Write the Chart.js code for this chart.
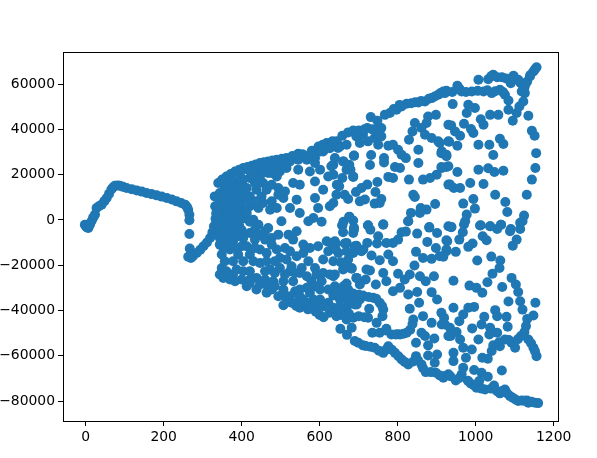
<!DOCTYPE html>
<html>
<head>
<meta charset="utf-8">
<script src="https://cdn.jsdelivr.net/npm/chart.js@4"></script>
<style>
  html, body { margin: 0; padding: 0; background: #fff; }
  canvas { display: block; }
</style>
</head>
<body>
<canvas id="scatterChart" width="597" height="458"></canvas>
<script>
const xTicks = [0, 200, 400, 600, 800, 1000, 1200];
const yTicks = [-80000, -60000, -40000, -20000, 0, 20000, 40000, 60000];

// values, [x, y]
const headPoints = [[-2,-2100],[2,-3100],[7,-3550],[4,-3300],[11,-2100],[15,-600],[19,900],[24,2350],[28,5300],[34,6000],[41,6750],[48,8300],[54,9700],[60,11500],[66,13400],[70,14300],[75,15100],[82,15200],[88,15100],[96,14600],[105,14100],[118,13600],[131,13050],[144,12500],[156,11900],[169,11400],[182,10850],[195,10300],[208,9700],[221,9000],[233,8200],[245,7500],[255,6750],[260,5700],[263,4500],[266,2300],[266,-150],[266,-6200],[267,-12650],[270,-16800],[263,-16300],[275,-16000],[285,-14600],[294,-13200],[302,-11650],[311,-10000],[319,-8000],[325,-5500],[329,-2800],[333,500],[336,3100]];

const denseBlob = [[332,6000],[345,7000],[358,6500],[372,7000],[385,6000],[398,5500],[335,3000],[348,3500],[362,4000],[376,3500],[390,4000],[405,3000],[335,0],[350,500],[364,1000],[378,800],[392,500],[406,700],[338,-2500],[352,-2000],[366,-2500],[380,-2000],[394,-2800],[340,-5000],[355,-5500],[370,-4800],[385,-5200],[400,-4500],[345,-7500],[360,-7000],[375,-8000],[390,-7000]];

const fanLeft = [[340,16300],[361,19200],[383,21400],[404,22900],[426,23900],[447,25100],[468,25850],[490,26600],[515,27300],[545,29200],[567,28350],[597,32450],[618,33950],[644,34700],[609,30250],[588,27300],[588,25100],[545,22200],[575,21400],[601,22200],[622,19200],[661,25850],[669,22200],[686,19200],[688,28350],[635,24400],[644,15550],[609,13350],[588,9700],[596,5300],[541,8950],[532,16300],[549,15550],[588,17000],[494,14100],[507,9700],[524,5300],[549,3050],[584,850],[571,-600],[502,-600],[605,-800],[661,-800],[686,-300],[676,1300],[468,20700],[490,19200],[447,19200],[421,18500],[404,17800],[455,16300],[477,15550],[438,13350],[413,14100],[387,13350],[370,12600],[344,11900],[361,10400],[400,11150],[421,10400],[451,10400],[477,8200],[490,5300],[421,6000],[443,5300],[396,7500],[370,6000],[353,4500],[340,6000],[336,2300],[349,100],[366,2300],[387,2300],[413,3050],[430,100],[443,-2100],[396,100],[374,-1350],[340,-2100],[344,-4300],[421,-800]];

const fanLeftFill = [[353,17000],[374,19200],[396,20700],[417,22200],[438,22900],[460,23600],[481,23900],[502,24800],[524,25850],[545,26600],[567,26600],[584,29500],[601,30250],[626,31700],[652,32450],[350,17800],[372,20300],[394,22200],[415,23400],[436,24500],[457,25500],[479,26200],[503,27000],[530,28200],[556,29000],[580,30500],[608,33200],[631,34300],[477,20700],[498,21400],[515,22900],[485,22900],[455,21400],[430,20000],[387,17000],[374,16300],[357,14100],[396,14800],[434,16300],[464,13300],[494,11150],[511,12600],[473,4500],[455,7500],[438,8200],[413,8950],[383,9700],[344,8950],[331,10400]];

const fanLeftLower = [[404,-7950],[378,-9400],[344,-10900],[370,-13100],[349,-15300],[400,-11650],[447,-6500],[477,-7950],[494,-6500],[520,-6500],[541,-5000],[532,-8700],[558,-10900],[575,-12400],[596,-11650],[618,-9400],[639,-9400],[669,-10150],[690,-11650],[712,-13100],[447,-13100],[477,-10900],[511,-12400],[421,-15300],[391,-15300],[498,-16800],[515,-17500],[541,-16000],[558,-14600],[622,-13800],[648,-14600],[669,-13800],[609,-17500],[588,-21200],[635,-18250],[665,-21200],[682,-21200],[720,-21900],[349,-21200],[361,-22650],[378,-24100],[344,-24100],[400,-26300],[421,-22650],[447,-19000],[473,-21900],[498,-21200],[524,-22650],[554,-21200],[438,-25600],[460,-26300],[481,-27100],[507,-27100],[532,-27100],[549,-23400],[579,-27100],[605,-27100],[635,-24850],[661,-29300],[695,-25600],[413,-29300],[438,-30750],[464,-32200],[494,-33700],[515,-35150],[541,-36600],[567,-36600],[601,-35150],[622,-36600],[652,-35150],[678,-35150],[712,-33700],[507,-30750],[537,-31500],[575,-32200],[601,-30750],[477,-30750],[549,-33700],[592,-38100],[635,-38800],[695,-37350],[507,-37700],[549,-38800],[540,-38000],[570,-39500],[600,-42000],[610,-43000],[625,-41000],[590,-40500]];

const lowerFill = [[344,-7950],[361,-9400],[387,-7250],[421,-5750],[434,-8700],[460,-8700],[434,-4300],[460,-5000],[468,-3550],[353,-12400],[383,-12400],[413,-11650],[434,-12400],[464,-14600],[490,-13100],[524,-13850],[357,-18250],[378,-18250],[404,-18250],[430,-18250],[464,-18250],[485,-18250],[528,-20450],[571,-18250],[370,-26300],[353,-25600],[383,-27100],[387,-21900],[404,-22650],[421,-26300],[460,-22650],[485,-23400],[511,-24100],[537,-23400],[567,-24850],[592,-24100],[609,-23400],[421,-27800],[447,-28550],[468,-30000],[485,-29300],[507,-32200],[524,-33700],[558,-35150],[584,-35150],[549,-30750],[567,-30000],[588,-29300],[622,-30750],[639,-29300],[673,-30750],[528,-36600],[575,-38800],[609,-38100],[652,-38100],[673,-37350],[703,-35150]];

const upperMiddle = [[917,56700],[904,55300],[887,53800],[870,52300],[853,51900],[823,51300],[810,50100],[797,48650],[780,47200],[767,46400],[731,45400],[748,43800],[844,42800],[878,45700],[898,46400],[874,42800],[861,40600],[870,37600],[887,36150],[904,34700],[930,42000],[838,39100],[829,35400],[930,34700],[853,31000],[912,29500],[925,28100],[930,23700],[912,23400],[900,20000],[883,18500],[865,17800],[853,25100],[829,17800],[930,15600],[686,39500],[673,38650],[658,37200],[722,40550],[746,39800],[758,40550],[711,37600],[694,36900],[703,33950],[724,34700],[741,36150],[758,36900],[750,33200],[669,33200],[647,31750],[633,34700],[776,32800],[788,33200],[801,31000],[810,28800],[821,27300],[688,28400],[732,28650],[765,27300],[765,25400],[729,24250],[793,23400],[806,22900],[660,25850],[676,24400],[679,22200],[639,27300],[630,23700],[635,20000],[658,18500],[686,19000],[776,19000],[788,18500],[748,16750],[722,15600],[707,14100],[693,12300],[650,14850],[664,11150],[673,9250],[643,11150],[635,7500],[626,6000],[703,8200],[716,9000],[741,7200],[754,7500],[758,9250],[743,12300],[840,11150],[844,10150],[896,7050],[874,4550],[859,5300],[857,3100],[834,3100],[827,-600],[676,1450],[658,-2350],[688,-3500],[724,-2350],[763,-1900],[881,-3100],[930,-2800]];

const upperRight = [[1156,67450],[1148,65550],[1139,63350],[1132,61150],[1118,60100],[1109,61900],[1097,63650],[1090,60400],[1067,63050],[1045,64100],[1032,62150],[1007,61900],[953,59250],[964,56700],[990,56700],[1020,56700],[1041,56000],[1062,57450],[1075,55300],[1084,52750],[1118,56700],[1126,56000],[1122,52300],[1112,50100],[1105,47200],[1084,48650],[1095,43800],[1135,46000],[1144,39400],[1151,37200],[1155,29500],[1153,22900],[1144,17800],[1131,11150],[1124,1900],[1114,-1300],[1090,-4000],[1065,-2100],[1037,-2800],[1013,-2350],[1081,3500],[1076,7900],[1050,11150],[1020,15900],[986,16300],[960,14100],[944,14100],[934,15600],[1071,21750],[1048,21150],[1032,22800],[1007,22200],[953,21150],[925,23400],[913,22900],[1045,28650],[1071,33500],[1062,35850],[1035,33200],[1007,33200],[953,32800],[932,34500],[908,33950],[925,28800],[913,30300],[994,38350],[988,40100],[960,37200],[947,39100],[937,41750],[970,42500],[977,47200],[998,49400],[981,50850],[1013,44500],[1020,42000],[1037,46400],[1058,46400],[941,51150],[921,56000],[994,9250],[968,7200],[998,5000],[977,2350],[970,-2050],[937,-3250]];

const upperEdge = [[700,39500],[715,40000],[735,40000],[790,49000],[805,50800],[835,51500],[845,52000],[860,52500],[880,53500],[895,54500],[910,56000],[925,57000],[940,56500],[958,58000],[975,56500],[1005,57000],[1030,57300],[1050,56800],[1070,56500],[1040,63500],[1055,63000],[1078,62500],[1100,62500],[1115,60500],[1125,58500],[1140,64000],[1152,66500],[1128,60000]];

const lowerMiddle = [[658,-2500],[660,-5450],[688,-4300],[686,-5750],[724,-2500],[730,-4300],[763,-2100],[827,-600],[810,-5450],[821,-5160],[850,-6050],[881,-3400],[901,-5750],[876,-9700],[925,-9000],[898,-12400],[925,-13800],[847,-14100],[865,-16800],[887,-17200],[908,-16000],[843,-20150],[801,-8700],[788,-10150],[771,-10150],[750,-7200],[747,-10450],[722,-10150],[694,-11350],[707,-13800],[686,-14600],[664,-10450],[641,-10450],[630,-10150],[641,-13100],[733,-15750],[754,-17800],[776,-15300],[788,-18250],[673,-17500],[654,-18700],[682,-21600],[660,-21900],[639,-24100],[626,-24100],[729,-22350],[763,-23400],[771,-27050],[801,-23800],[818,-26300],[831,-24100],[694,-25600],[718,-26300],[703,-28500],[744,-28500],[669,-28100],[652,-30750],[635,-33400],[660,-34000],[686,-32500],[711,-33400],[737,-34400],[754,-36600],[763,-39550],[761,-42500],[788,-31500],[806,-30000],[827,-32950],[850,-31800],[887,-31900],[901,-35150],[855,-36600],[831,-39250],[893,-24850],[872,-27050],[857,-24850],[690,-37350],[643,-40300],[669,-39550],[727,-39250],[724,-43200],[686,-43200],[669,-44000],[643,-42500],[682,-47650],[653,-48100],[670,-50750],[746,-45450],[735,-49850],[754,-49850],[771,-48100],[784,-50600],[806,-50600],[823,-49850],[840,-44000],[865,-42500],[887,-45450],[912,-41000],[921,-46200],[861,-49850],[870,-51300],[894,-52350],[847,-54250],[878,-55400],[930,-51300],[699,-54250],[711,-55400],[741,-56450],[763,-58700],[776,-55750],[793,-58700],[810,-61600],[827,-63800],[847,-60150],[861,-63800],[872,-67200],[878,-59850],[901,-59400],[895,-63100],[898,-67500],[917,-69700],[930,-68200]];

const lowerRight = [[938,-3100],[967,-5450],[973,-600],[1011,-2500],[1037,-2800],[1055,-4000],[1065,-2100],[1088,-5000],[1114,-4000],[1120,-600],[1018,-7200],[1028,-9000],[1105,-8700],[1095,-11350],[992,-10450],[981,-11900],[958,-8700],[927,-9400],[925,-13100],[917,-16300],[949,-14100],[1004,-17950],[1040,-16200],[1063,-17950],[1061,-21200],[1043,-23800],[1030,-27500],[1068,-29600],[1092,-25600],[1103,-28500],[1109,-31800],[1114,-35900],[1120,-39600],[1153,-36600],[1148,-42200],[1132,-43700],[1129,-46900],[1084,-36000],[943,-26900],[984,-29000],[1002,-30000],[1017,-32200],[943,-38800],[996,-38400],[981,-38800],[968,-41800],[958,-44700],[1022,-42800],[1050,-39850],[1055,-42500],[1079,-42800],[1082,-47200],[991,-47900],[1015,-46200],[1037,-47650],[1055,-49850],[1035,-50600],[919,-43200],[913,-46200],[934,-47650],[951,-49550],[936,-51300],[960,-52800],[1007,-52800],[968,-56450],[990,-57200],[1045,-55400],[1041,-57900],[1062,-55750],[1075,-52800],[1092,-54250],[1101,-56450],[1116,-51300],[1135,-52800],[1148,-56450],[1156,-60150],[1017,-60900],[1031,-61300],[943,-58700],[943,-62350],[975,-60900],[968,-65300],[921,-68950],[949,-70900],[964,-68200],[996,-66300],[1067,-66500],[1015,-67500],[1031,-69250],[987,-72200],[1009,-71150],[1002,-74100],[1024,-74850],[1047,-73100],[1062,-76600],[1075,-74850],[1088,-77800],[1109,-80000],[1131,-79700],[1152,-80700],[1135,-80700]];

const lowerEdge = [[1040,-74500],[1055,-75700],[1068,-75500],[1080,-76500],[1095,-78500],[1102,-79300],[1118,-79700],[1125,-79900],[1143,-80300],[1160,-80900],[1015,-74500],[995,-73000],[980,-71000],[958,-69800],[935,-69000],[908,-68700],[885,-67200],[865,-65500],[852,-62000],[840,-62500],[818,-62700],[802,-60200],[785,-57300],[770,-57300],[752,-57800],[730,-56000],[718,-55700],[690,-53500],[1152,-58000],[1142,-54500],[1125,-49500],[1108,-52700],[1085,-53000],[1060,-54000],[745,-34800],[725,-34000],[700,-33000],[675,-33000],[650,-33800],[640,-31500],[760,-38000],[655,-42000],[675,-41500],[700,-42500],[715,-43000],[800,-50500],[795,-50600],[815,-50300],[832,-48500],[838,-46000],[770,-48800]];

const allPoints = [].concat(headPoints, denseBlob, fanLeft, fanLeftFill, fanLeftLower, lowerFill, upperMiddle, upperRight, upperEdge, lowerMiddle, lowerRight, lowerEdge);

const frameBox = {
    id: 'frameBox',
    afterDatasetsDraw(chart) {
        const a = chart.chartArea;
        const c = chart.ctx;
        c.save();
        c.strokeStyle = '#000';
        c.lineWidth = 1;
        c.strokeRect(Math.round(a.left) + 0.5, Math.round(a.top) + 0.5, Math.round(a.right - a.left), Math.round(a.bottom - a.top));
        c.restore();
    }
};

const tickFont = { family: 'DejaVu Sans', size: 13.9 };

new Chart(document.getElementById('scatterChart').getContext('2d'), {
    type: 'scatter',
    data: {
        datasets: [{
            data: allPoints.map(function (p) { return { x: p[0], y: p[1] }; }),
            backgroundColor: '#1f77b4',
            borderWidth: 0,
            pointRadius: 5
        }]
    },
    options: {
        responsive: false,
        animation: false,
        layout: { padding: { left: 0, right: 39, top: 52, bottom: 0 } },
        plugins: { legend: { display: false }, tooltip: { enabled: false } },
        scales: {
            x: {
                type: 'linear',
                min: -58,
                max: 1211,
                afterFit: function (s) { s.height = 37; },
                afterBuildTicks: function (s) { s.ticks = xTicks.map(function (v) { return { value: v }; }); },
                border: { color: '#000' },
                grid: { drawOnChartArea: false, tickColor: '#000', tickLength: 5 },
                ticks: {
                    color: '#000',
                    font: tickFont,
                    padding: 3,
                    maxRotation: 0,
                    autoSkip: false,
                    callback: function (v) { return String(v); }
                }
            },
            y: {
                min: -88800,
                max: 74160,
                afterFit: function (s) { s.width = 63; },
                afterBuildTicks: function (s) { s.ticks = yTicks.map(function (v) { return { value: v }; }); },
                border: { color: '#000' },
                grid: { drawOnChartArea: false, tickColor: '#000', tickLength: 5 },
                ticks: {
                    color: '#000',
                    font: tickFont,
                    padding: 3,
                    autoSkip: false,
                    callback: function (v) { return String(v).replace('-', '\u2212'); }
                }
            }
        }
    },
    plugins: [frameBox]
});
</script>
</body>
</html>
